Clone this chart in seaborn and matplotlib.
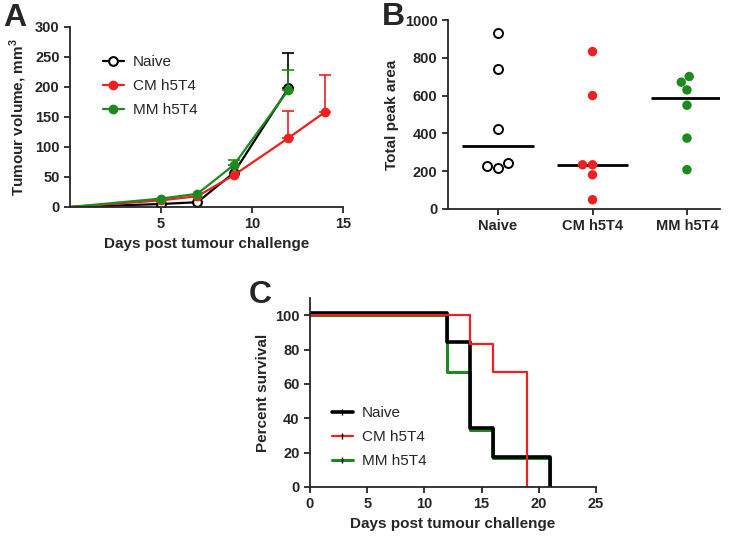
import numpy as np
import pandas as pd
import matplotlib
matplotlib.use("Agg")
import matplotlib.pyplot as plt
from matplotlib.lines import Line2D
import seaborn as sns

# --- panel A: tumour growth (mean + upper SEM) ---
groups = ["Naive", "CM h5T4", "MM h5T4"]
naive_days = [0, 5, 7, 9, 12]
naive_vol = [0, 5, 8, 57, 198]
naive_err = [0, 0, 0, 0, 59]
cm_days = [0, 5, 7, 9, 12, 14]
cm_vol = [0, 11, 18, 53, 115, 158]
cm_err = [0, 0, 0, 0, 45, 62]
mm_days = [0, 5, 7, 9, 12]
mm_vol = [0, 14, 22, 70, 195]
mm_err = [0, 0, 0, 9, 33]

# --- panel B: total peak area per mouse ---
naive_area = [930, 741, 424, 243, 217, 229]
cm_area = [833, 600, 234, 234, 181, 49]
mm_area = [701, 671, 630, 549, 375, 208]

# --- panel C: survival ---
naive_t = [0, 12, 14, 16, 21]
naive_surv = [101.5, 84.5, 34.5, 17.5, 0]
cm_t = [0, 14, 16, 19]
cm_surv = [100, 83.3, 66.7, 0]
mm_t = [0, 12, 14, 16, 21]
mm_surv = [100, 66.7, 33.3, 16.7, 0]

colors = {"Naive": "black", "CM h5T4": "#ee2020", "MM h5T4": "#1e8a1e"}

sns.set_style("ticks")
plt.rcParams["font.family"] = ["Liberation Sans", "DejaVu Sans"]
plt.rcParams["font.weight"] = "bold"
plt.rcParams["axes.labelweight"] = "bold"
plt.rcParams["mathtext.fontset"] = "custom"
plt.rcParams["mathtext.bf"] = "Liberation Sans:bold"
plt.rcParams["mathtext.rm"] = "Liberation Sans:bold"
plt.rcParams["axes.linewidth"] = 1.3
plt.rcParams["xtick.major.width"] = 1.3
plt.rcParams["ytick.major.width"] = 1.3
plt.rcParams["xtick.major.size"] = 4
plt.rcParams["ytick.major.size"] = 4
plt.rcParams["xtick.labelsize"] = 10.5
plt.rcParams["ytick.labelsize"] = 10.5
plt.rcParams["axes.labelsize"] = 11

fig = plt.figure(figsize=(7.36, 5.36), dpi=100)
W, H = 736, 536

def px_axes(l, t, r, b):
    return fig.add_axes([l / W, 1 - b / H, (r - l) / W, (b - t) / H])

axa = px_axes(70, 27, 343, 207)
axb = px_axes(448, 20, 720, 209)
axc = px_axes(310, 298, 596, 487)

# ---------------- A ----------------
series = [("Naive", naive_days, naive_vol, naive_err),
          ("CM h5T4", cm_days, cm_vol, cm_err),
          ("MM h5T4", mm_days, mm_vol, mm_err)]
for name, d, v, e in series:
    c = colors[name]
    d, v, e = np.array(d), np.array(v), np.array(e)
    m = e > 0
    axa.errorbar(d[m], v[m], yerr=[np.zeros(m.sum()), e[m]], fmt="none",
                 ecolor=c, elinewidth=1.2, capsize=4, capthick=1.2)
    face = "white" if name == "Naive" else c
    ms = 6.3 if name == "Naive" else 5.5
    sns.lineplot(x=d, y=v, ax=axa, color=c, lw=1.6, marker="o",
                 markevery=slice(1, None), ms=ms, mfc=face, mec=c, mew=1.5)
axa.set_xlim(0, 15)
axa.set_ylim(0, 300)
axa.set_xticks([5, 10, 15])
axa.set_yticks(range(0, 301, 50))
axa.set_xlabel("Days post tumour challenge")
axa.set_ylabel(r"Tumour volume, mm$^{\mathbf{3}}$")
handles_a = [Line2D([0], [0], color=colors[g], lw=1.6, marker="o",
                    ms=6.3 if g == "Naive" else 5.5,
                    mfc="white" if g == "Naive" else colors[g],
                    mec=colors[g], mew=1.5) for g in groups]
axa.legend(handles_a, groups, loc="upper left", bbox_to_anchor=(103 / W, 1 - 55 / H),
           bbox_transform=fig.transFigure, frameon=False, borderpad=0, borderaxespad=0,
           handlelength=1.35, handletextpad=0.6, labelspacing=0.65,
           prop={"size": 11, "weight": "normal"})

# ---------------- B ----------------
dfb = pd.DataFrame({
    "group": ["Naive"] * len(naive_area) + ["CM h5T4"] * len(cm_area) + ["MM h5T4"] * len(mm_area),
    "area": naive_area + cm_area + mm_area,
})
sns.boxplot(data=dfb, x="group", y="area", order=groups, ax=axb, width=0.76,
            showbox=False, showcaps=False, showfliers=False,
            whiskerprops={"visible": False},
            medianprops={"color": "black", "linewidth": 2})
sns.swarmplot(data=dfb, x="group", y="area", order=groups, hue="group",
              hue_order=groups, palette=colors, size=6.8, legend=False, ax=axb)
for coll in axb.collections:
    fc = coll.get_facecolor()
    if len(fc) and np.allclose(fc[0][:3], 0):
        coll.set_facecolor("white")
        coll.set_edgecolor("black")
        coll.set_linewidth(1.4)
        coll.set_sizes([42])
axb.set_xlim(-0.53, 2.35)
axb.set_ylim(0, 1000)
axb.set_yticks(range(0, 1001, 200))
axb.set_xlabel("")
axb.set_ylabel("Total peak area")
for lbl in axb.get_xticklabels():
    lbl.set_fontweight("bold")
    lbl.set_fontsize(10.5)

# ---------------- C ----------------
surv = [("MM h5T4", mm_t, mm_surv, 2.2),
        ("Naive", naive_t, naive_surv, 2.6),
        ("CM h5T4", cm_t, cm_surv, 1.6)]
for name, t, s, lw in surv:
    sns.lineplot(x=t, y=s, ax=axc, color=colors[name], lw=lw, drawstyle="steps-post")
axc.set_xlim(0, 25)
axc.set_ylim(0, 110)
axc.set_xticks(range(0, 26, 5))
axc.set_yticks(range(0, 101, 20))
axc.set_xlabel("Days post tumour challenge")
axc.set_ylabel("Percent survival")
lw_c = {"Naive": 2.6, "CM h5T4": 1.6, "MM h5T4": 2.2}
handles_c = [Line2D([0], [0], color=colors[g], lw=lw_c[g], marker="|", ms=4,
                    mec="black", mew=1) for g in groups]
axc.legend(handles_c, groups, loc="upper left", bbox_to_anchor=(332 / W, 1 - 406 / H),
           bbox_transform=fig.transFigure, frameon=False, borderpad=0, borderaxespad=0,
           handlelength=1.35, handletextpad=0.6, labelspacing=0.65,
           prop={"size": 11, "weight": "normal"})

for ax in (axa, axb, axc):
    sns.despine(ax=ax)

fig.text(15 / W, 1 - 18 / H, "A", fontsize=23, fontweight="bold", ha="center", va="center")
fig.text(393 / W, 1 - 17 / H, "B", fontsize=23, fontweight="bold", ha="center", va="center")
fig.text(260 / W, 1 - 295 / H, "C", fontsize=23, fontweight="bold", ha="center", va="center")

fig.savefig("out.png", dpi=100)
